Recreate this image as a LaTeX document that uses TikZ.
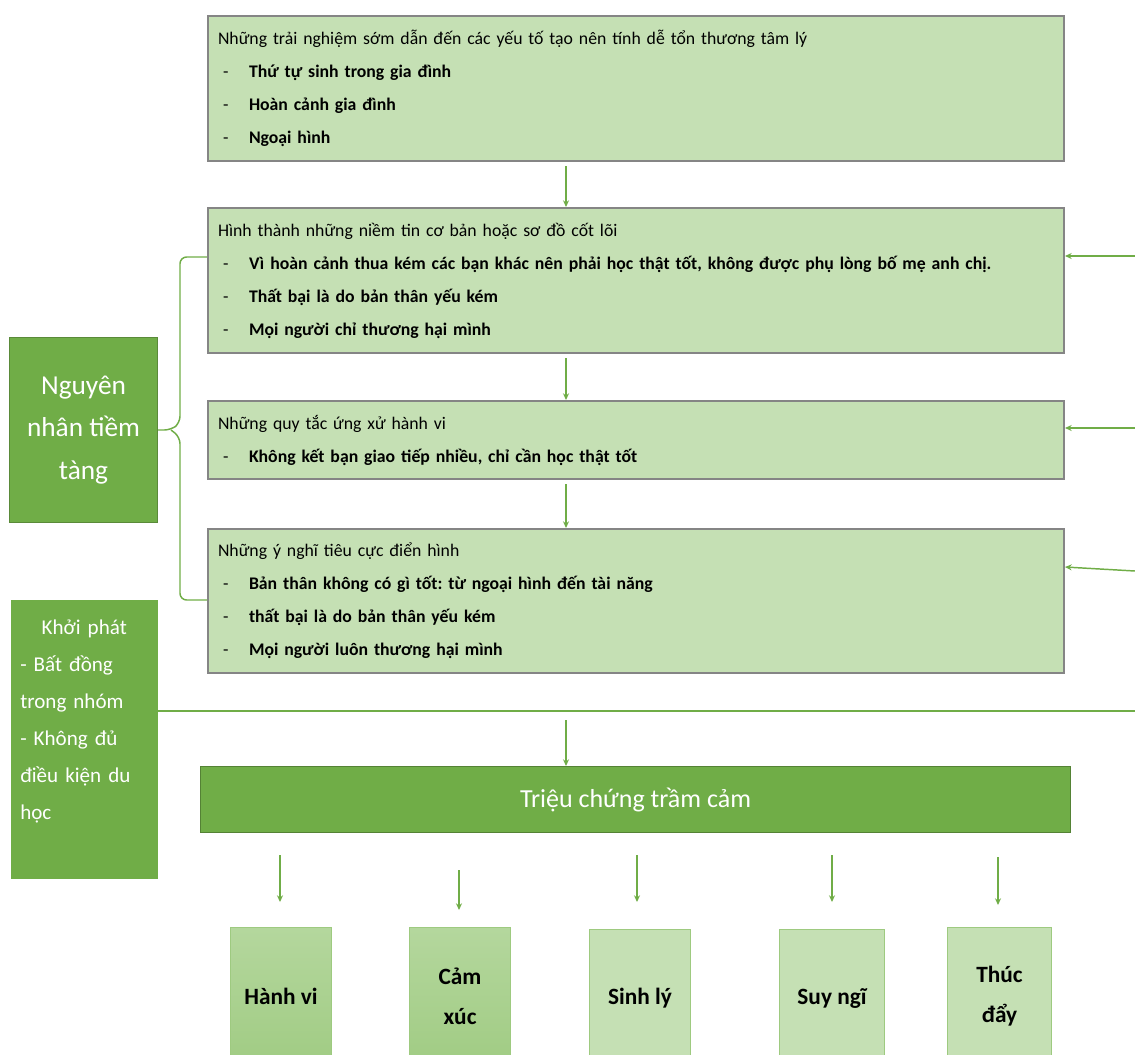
\documentclass[tikz,border=0pt]{standalone}
\usepackage{fontspec}
\setmainfont{Carlito}
\usetikzlibrary{arrows.meta}
\frenchspacing

\definecolor{palegreen}{HTML}{C5E0B4}
\definecolor{leafgreen}{HTML}{70AD47}
\definecolor{midgreen}{HTML}{A9D18E}
\definecolor{boxgray}{HTML}{858585}

\newcommand{\itm}[1]{\hspace*{3.75pt}\makebox[19.5pt][l]{-}\textbf{#1}}

\tikzset{
  stagebox/.style={draw=boxgray, line width=1.5pt, fill=palegreen, anchor=north west,
    minimum width=642pt, text width=627pt, inner xsep=7.5pt, align=left,
    font=\fontsize{13.3}{24.75}\selectfont},
  causebox/.style={draw=leafgreen!80!black, line width=0.8pt, fill=leafgreen, anchor=north west,
    text=white, align=center, font=\fontsize{20.5}{32}\selectfont},
  symbox/.style={draw=midgreen!80!leafgreen, line width=0.8pt, fill=palegreen, anchor=north west,
    minimum width=75.75pt, minimum height=103.5pt, align=center,
    font=\bfseries\fontsize{17.5}{30}\selectfont},
  darksym/.style={top color=midgreen!60!palegreen, bottom color=midgreen!85!leafgreen},
  flow/.style={leafgreen, line width=1.1pt, -{Stealth[length=5pt,width=4.5pt]}},
  link/.style={leafgreen, line width=1.1pt}
}

\begin{document}
\begin{tikzpicture}[x=0.75pt, y=-0.75pt]
  \useasboundingbox (0,0) rectangle (1135,1054);
  \clip (0,0) rectangle (1135,1054);

  % the four stages
  \node[stagebox, minimum height=108.75pt] (tn) at (207,15) {Những trải nghiệm sớm dẫn đến các yếu tố tạo nên tính dễ tổn thương tâm lý\\
    \itm{Thứ tự sinh trong gia đình}\\
    \itm{Hoàn cảnh gia đình}\\
    \itm{Ngoại hình}};
  \node[stagebox, minimum height=108.75pt] (nt) at (207,207) {Hình thành những niềm tin cơ bản hoặc sơ đồ cốt lõi\\
    \itm{Vì hoàn cảnh thua kém các bạn khác nên phải học thật tốt, không được phụ lòng bố mẹ anh chị.}\\
    \itm{Thất bại là do bản thân yếu kém}\\
    \itm{Mọi người chỉ thương hại mình}};
  \node[stagebox, minimum height=58.5pt] (qt) at (207,400) {Những quy tắc ứng xử hành vi\\
    \itm{Không kết bạn giao tiếp nhiều, chỉ cần học thật tốt}};
  \node[stagebox, minimum height=108pt] (yn) at (207,528) {Những ý nghĩ tiêu cực điển hình\\
    \itm{Bản thân không có gì tốt: từ ngoại hình đến tài năng}\\
    \itm{thất bại là do bản thân yếu kém}\\
    \itm{Mọi người luôn thương hại mình}};

  % left side
  \node[causebox, minimum width=111pt, minimum height=138.75pt] (nn) at (9,337) {Nguyên\\nhân tiềm\\tàng};
  \node[causebox, draw=leafgreen, minimum width=109.5pt, minimum height=208.5pt] (kp) at (11,600) {};
  \node[anchor=north west, text=white, text width=96pt, inner sep=0pt, align=left,
    font=\fontsize{15.8}{27.75}\selectfont] (kptext) at (20,620) {\makebox[96pt][c]{Khởi phát}\\- Bất đồng\\trong nhóm\\- Không đủ\\điều kiện du\\học};

  % symptoms
  \node[causebox, draw=leafgreen!75!black, minimum width=652.5pt, minimum height=49.5pt,
    font=\fontsize{19.5}{32}\selectfont] (tc) at (200,766) {Triệu chứng trầm cảm};
  \node[symbox, darksym] (hv) at (230,927) {Hành vi};
  \node[symbox, darksym] (cx) at (409,927) {Cảm\\xúc};
  \node[symbox] (sl) at (589,929) {Sinh lý};
  \node[symbox, minimum width=78.75pt] (sn) at (779,929) {Suy ngĩ};
  \node[symbox, minimum width=78pt] (td) at (947,927) {Thúc\\đẩy};

  % flow down the stages
  \coordinate (ax) at (566,0);
  \draw[flow, shorten <=3pt] (ax |- tn.south) -- (ax |- nt.north);
  \draw[flow, shorten <=3pt] (ax |- nt.south) -- (ax |- qt.north);
  \draw[flow, shorten <=3pt] (ax |- qt.south) -- (ax |- yn.north);

  % feedback from the right
  \coordinate (r1) at (1135,256);
  \coordinate (r2) at (1135,428);
  \coordinate (r3) at (1135,571);
  \draw[flow] (r1) -- (r1 -| nt.east);
  \draw[flow] (r2) -- (r2 -| qt.east);
  \draw[flow] (r3) -- (nt.east |- 0,567);

  % brace from the causes
  \draw[link, rounded corners=5pt] (nt.west |- 0,257) -- (180,257) -- (180,423) -- (171,430) -- (nn.east |- 0,430);
  \draw[link, rounded corners=5pt] (171,430) -- (180,437) -- (180,600) -- (yn.west |- 0,600);

  % onset line
  \coordinate (on) at (1135,711);
  \draw[link] (kp.east |- on) -- (on);
  \coordinate (onx) at (566,720);
  \draw[flow] (onx) -- (onx |- tc.north);

  % symptom arrows
  \coordinate (a1) at (280,855);
  \coordinate (a2) at (459,870);
  \coordinate (a3) at (637,855);
  \coordinate (a4) at (832,855);
  \coordinate (a5) at (998,857);
  \draw[flow] (a1) -- ++(0,47);
  \draw[flow] (a2) -- ++(0,40);
  \draw[flow] (a3) -- ++(0,47);
  \draw[flow] (a4) -- ++(0,47);
  \draw[flow] (a5) -- ++(0,48);
\end{tikzpicture}
\end{document}
